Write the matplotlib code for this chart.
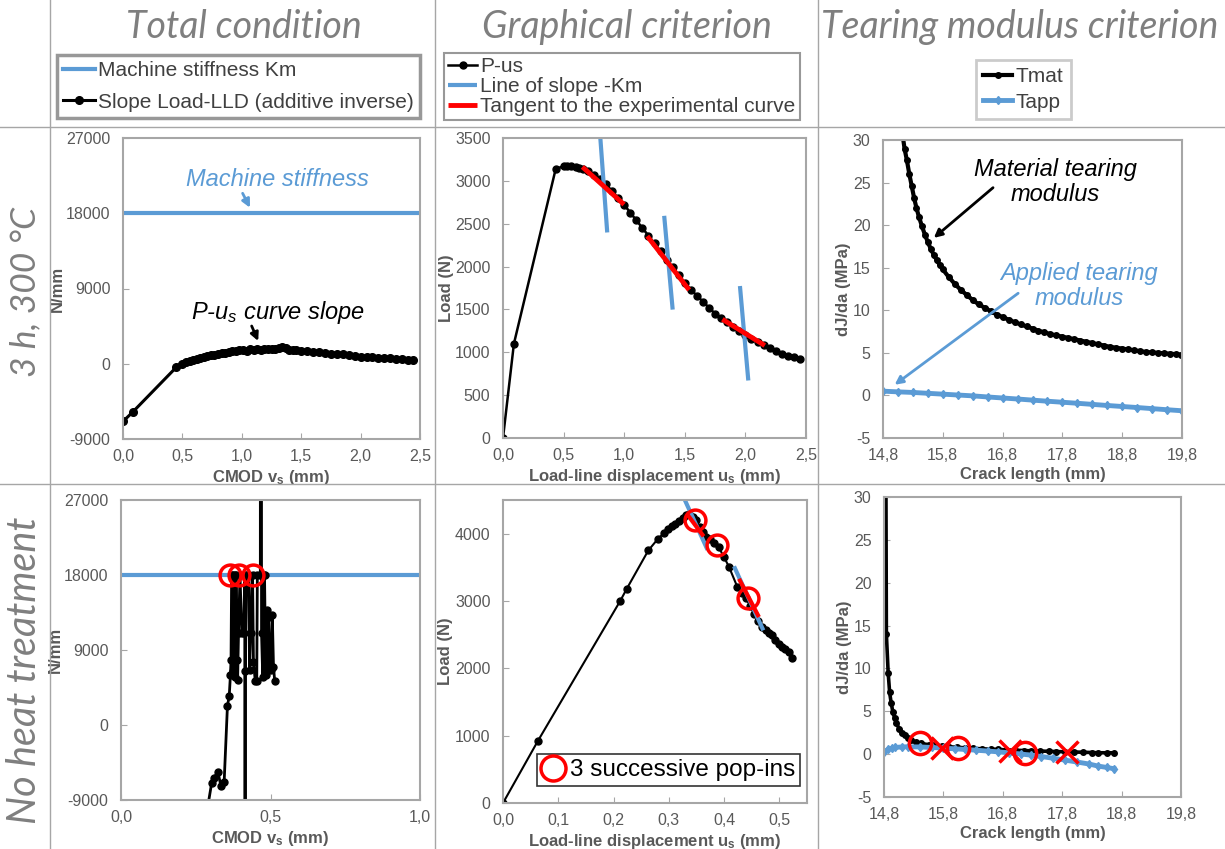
import matplotlib
matplotlib.use("Agg")
import matplotlib.pyplot as plt
from matplotlib.lines import Line2D
from matplotlib.ticker import FuncFormatter, MultipleLocator, FixedLocator

plt.rcParams['font.family'] = ['Liberation Sans', 'DejaVu Sans']
plt.rcParams['axes.unicode_minus'] = False
plt.rcParams['mathtext.fontset'] = 'custom'
plt.rcParams['mathtext.rm'] = 'Liberation Sans'
plt.rcParams['mathtext.it'] = 'Liberation Sans:italic'
plt.rcParams['mathtext.bf'] = 'Liberation Sans:bold'

BLUE = '#5b9bd5'
RED = '#ff0000'
GRAY_TXT = '#7f7f7f'
TICK_TXT = '#595959'
SPINE = '#a6a6a6'

# ---------------- data ----------------
col_titles = ['Total condition', 'Graphical criterion', 'Tearing modulus criterion']
row_titles = ['3 h, 300 °C', 'No heat treatment']

km_value = 18000  # machine stiffness (N/mm)
crack_ticks = [14.8, 15.8, 16.8, 17.8, 18.8, 19.8]

# 3 h, 300 °C -- slope Load-LLD (additive inverse)
slope1_x = [0.00, 0.08, 0.45, 0.50, 0.53, 0.56, 0.59, 0.62, 0.65, 0.68, 0.71, 0.74, 0.77,
            0.80, 0.83, 0.86, 0.89, 0.92, 0.95, 0.98, 1.01, 1.04, 1.07, 1.10, 1.13, 1.16,
            1.19, 1.22, 1.25, 1.28, 1.31, 1.34, 1.37, 1.40, 1.43, 1.46, 1.50, 1.55, 1.60,
            1.65, 1.70, 1.75, 1.80, 1.85, 1.90, 1.95, 2.00, 2.05, 2.10, 2.15, 2.20, 2.25,
            2.30, 2.35, 2.40, 2.44]
slope1_y = [-6900, -5800, -400, 0, 150, 300, 420, 560, 700, 800, 900, 1000, 1080,
            1150, 1250, 1330, 1420, 1500, 1580, 1620, 1680, 1560, 1740, 1650, 1820, 1700,
            1760, 1720, 1760, 1800, 1880, 2050, 1880, 1700, 1640, 1700, 1560, 1500, 1450,
            1380, 1280, 1200, 1120, 1150, 1050, 880, 860, 800, 760, 700, 660, 650,
            600, 560, 460, 400]

# 3 h, 300 °C -- P-us curve
pus1_x = [0.00, 0.09, 0.435, 0.50, 0.53, 0.56, 0.60, 0.63, 0.66, 0.70, 0.75, 0.80, 0.85,
          0.90, 0.95, 1.00, 1.05, 1.10, 1.15, 1.20, 1.25, 1.30, 1.35, 1.40, 1.45, 1.50,
          1.55, 1.60, 1.65, 1.70, 1.75, 1.80, 1.85, 1.90, 1.95, 2.00, 2.05, 2.10, 2.15,
          2.20, 2.25, 2.30, 2.35, 2.40, 2.45]
pus1_y = [0, 1100, 3140, 3170, 3170, 3170, 3165, 3150, 3135, 3110, 3070, 3020, 2960,
          2880, 2800, 2720, 2630, 2540, 2450, 2360, 2270, 2180, 2080, 1990, 1900, 1810,
          1730, 1660, 1590, 1520, 1450, 1400, 1350, 1290, 1245, 1200, 1160, 1120, 1085,
          1050, 1020, 985, 960, 940, 920]

km_seg1_x = [[0.80, 0.86], [1.33, 1.40], [1.955, 2.024]]
km_seg1_y = [[3560, 2398], [2592, 1498], [1773, 671]]
tan_seg1_x = [[0.655, 0.999], [1.19, 1.536], [1.81, 2.16]]
tan_seg1_y = [[3163, 2724], [2355, 1727], [1385, 1079]]

# 3 h, 300 °C -- tearing moduli
tmat1_x = [15.12, 15.16, 15.20, 15.24, 15.28, 15.32, 15.36, 15.40, 15.45, 15.50, 15.55,
           15.60, 15.65, 15.70, 15.75, 15.80, 15.90, 16.00, 16.10, 16.20, 16.30, 16.40,
           16.50, 16.60, 16.70, 16.80, 16.90, 17.00, 17.10, 17.20, 17.30, 17.40, 17.50,
           17.60, 17.70, 17.80, 17.90, 18.00, 18.10, 18.20, 18.30, 18.40, 18.50, 18.60,
           18.70, 18.80, 18.90, 19.00, 19.10, 19.20, 19.30, 19.40, 19.50, 19.60, 19.70, 19.78]
tmat1_y = [31.0, 29.0, 27.6, 26.0, 24.6, 23.2, 22.0, 21.0, 19.9, 18.9, 18.0,
           17.2, 16.5, 15.9, 15.3, 14.8, 13.9, 13.1, 12.4, 11.8, 11.2, 10.7,
           10.3, 9.9, 9.5, 9.2, 8.9, 8.6, 8.35, 8.1, 7.85, 7.6, 7.4,
           7.2, 7.05, 6.9, 6.75, 6.6, 6.45, 6.3, 6.15, 6.0, 5.85, 5.7,
           5.6, 5.5, 5.4, 5.3, 5.2, 5.1, 5.05, 5.0, 4.95, 4.9, 4.85, 4.8]
tapp1_x = [14.80, 15.05, 15.30, 15.55, 15.80, 16.05, 16.30, 16.55, 16.80, 17.05, 17.30,
           17.55, 17.80, 18.05, 18.30, 18.55, 18.80, 19.05, 19.30, 19.55, 19.80]
tapp1_y = [0.50, 0.42, 0.35, 0.25, 0.15, 0.05, -0.05, -0.18, -0.30, -0.42, -0.55,
           -0.68, -0.80, -0.92, -1.05, -1.18, -1.30, -1.42, -1.55, -1.68, -1.80]

# No heat treatment -- slope Load-LLD (additive inverse)
slope2_x = [0.280, 0.303, 0.312, 0.324, 0.334, 0.345, 0.356, 0.362, 0.366, 0.368, 0.370,
            0.374, 0.376, 0.380, 0.382, 0.386, 0.388, 0.390, 0.393, 0.398, 0.404, 0.410,
            0.414, 0.415, 0.416, 0.420, 0.428, 0.430, 0.434, 0.440, 0.443, 0.449, 0.454,
            0.456, 0.466, 0.468, 0.470, 0.474, 0.477, 0.480, 0.484, 0.488, 0.490, 0.494,
            0.498, 0.502, 0.506, 0.510, 0.514]
slope2_y = [-12000, -7000, -6300, -5600, -7300, -6800, 2300, 3500, 6000, 7800, 18000,
            18000, 6500, 5800, 18000, 18000, 7800, 5400, 11000, 18000, 11000, 11000,
            18000, -300000, 6500, 18000, 18000, 6600, 11000, 18000, 7600, 5300, 5300,
            18000, 18000, 300000, 11000, 5800, 18000, 18000, 6000, 13800, 6600, 13000,
            7200, 6600, 13200, 7000, 5300]
popin_slope_x = [0.365, 0.396, 0.443]

# No heat treatment -- P-us curve
pus2_x = [0.000, 0.063, 0.212, 0.224, 0.263, 0.280, 0.292, 0.299, 0.305, 0.311, 0.318,
          0.325, 0.331, 0.337, 0.343, 0.349, 0.356, 0.362, 0.367, 0.374, 0.382, 0.390,
          0.400, 0.409, 0.424, 0.432, 0.439, 0.447, 0.454, 0.462, 0.468, 0.475, 0.481,
          0.487, 0.493, 0.499, 0.505, 0.511, 0.517, 0.523]
pus2_y = [0, 920, 3000, 3183, 3752, 3920, 4015, 4070, 4110, 4150, 4190,
          4230, 4270, 4290, 4250, 4198, 4100, 4020, 3950, 3920, 3861, 3802,
          3650, 3505, 3208, 3120, 3050, 2930, 2812, 2700, 2620, 2574, 2530,
          2490, 2420, 2366, 2320, 2280, 2243, 2158]
km_seg2_x = [[0.329, 0.370], [0.418, 0.471]]
km_seg2_y = [[4500, 3760], [3515, 2564]]
tan_seg2_x = [[0.333, 0.363], [0.427, 0.463]]
tan_seg2_y = [[4290, 3960], [3330, 2762]]
popin_x = [0.347, 0.388, 0.444]
popin_y = [4208, 3826, 3045]

# No heat treatment -- tearing moduli
tmat2_x = [14.820, 14.840, 14.870, 14.895, 14.920, 14.950, 14.980, 15.010, 15.060, 15.100,
           15.150, 15.200, 15.260, 15.340, 15.430, 15.550, 15.650, 15.770, 15.900, 16.030,
           16.160, 16.300, 16.450, 16.600, 16.720, 16.850, 17.000, 17.150, 17.280, 17.420,
           17.570, 17.700, 17.850, 18.000, 18.150, 18.300, 18.410, 18.550, 18.670]
tmat2_y = [60.0, 14.0, 9.5, 7.2, 6.0, 4.9, 4.2, 3.6, 2.9, 2.5,
           2.2, 1.9, 1.6, 1.4, 1.25, 1.1, 1.02, 0.94, 0.85, 0.8,
           0.74, 0.68, 0.62, 0.58, 0.55, 0.5, 0.46, 0.42, 0.39, 0.36,
           0.33, 0.3, 0.27, 0.25, 0.22, 0.19, 0.16, 0.16, 0.16]
tapp2_x = [14.80, 14.87, 14.93, 14.98, 15.10, 15.20, 15.40, 15.60, 15.80, 16.00, 16.16,
           16.35, 16.55, 16.72, 16.90, 17.10, 17.28, 17.45, 17.65, 17.85, 18.05, 18.25,
           18.41, 18.55, 18.67]
tapp2_y = [0.27, 0.55, 0.70, 0.78, 0.84, 0.86, 0.84, 0.78, 0.70, 0.62, 0.55,
           0.46, 0.36, 0.27, 0.16, 0.02, -0.12, -0.28, -0.48, -0.70, -0.92, -1.15,
           -1.40, -1.55, -1.70]
cross_circ_x = [15.40, 16.04, 17.18]
cross_circ_y = [1.25, 0.66, 0.19]
cross_x_x = [15.78, 16.92, 17.88]
cross_x_y = [0.66, 0.35, 0.27]

# ---------------- layout ----------------
W, H = 1225, 849
fig = plt.figure(figsize=(W / 100, H / 100), dpi=100)
fig.patch.set_facecolor('white')


def rect(l, t, r, b):
    return [l / W, 1 - b / H, (r - l) / W, (b - t) / H]


def fx(x):
    return x / W


def fy(y):
    return 1 - y / H


comma1 = FuncFormatter(lambda v, p: f'{v:.1f}'.replace('.', ','))
intfmt = FuncFormatter(lambda v, p: f'{v:.0f}')


def style_axes(ax, xlim, xstep, ylim, ystep, xlabel, ylabel, xticks=None):
    ax.set_xlim(*xlim)
    ax.set_ylim(*ylim)
    if xticks is not None:
        ax.xaxis.set_major_locator(FixedLocator(xticks))
    else:
        ax.xaxis.set_major_locator(MultipleLocator(xstep))
    ax.yaxis.set_major_locator(MultipleLocator(ystep))
    ax.xaxis.set_major_formatter(comma1)
    ax.yaxis.set_major_formatter(intfmt)
    for s in ax.spines.values():
        s.set_color(SPINE)
        s.set_linewidth(1.5)
    ax.tick_params(direction='in', length=4, color=SPINE, labelsize=11.5,
                   labelcolor=TICK_TXT)
    ax.tick_params(axis='x', pad=7)
    ax.tick_params(axis='y', pad=9)
    ax.set_xlabel(xlabel, fontsize=12, fontweight='bold', color=TICK_TXT, labelpad=3)
    ax.set_ylabel(ylabel, fontsize=12, fontweight='bold', color=TICK_TXT, labelpad=1)


ax1 = fig.add_axes(rect(123, 138, 420, 439))
ax2 = fig.add_axes(rect(503, 138, 806, 438))
ax3 = fig.add_axes(rect(883, 140, 1182, 438))
ax4 = fig.add_axes(rect(121, 500, 420, 800))
ax5 = fig.add_axes(rect(503, 500, 807, 803))
ax6 = fig.add_axes(rect(884, 497, 1181, 797))

cmod_lbl = r'CMOD v$_{\mathbf{s}}$ (mm)'
lld_lbl = r'Load-line displacement u$_{\mathbf{s}}$ (mm)'
arrow_kw = dict(arrowstyle='-|>', lw=2, mutation_scale=12, shrinkA=0, shrinkB=0)

# --- panel 1 ---
h_km = ax1.axhline(km_value, color=BLUE, lw=3, label='Machine stiffness Km')
h_sl, = ax1.plot(slope1_x, slope1_y, color='black', lw=2.2, marker='o', ms=5.5,
                 label='Slope Load-LLD (additive inverse)')
style_axes(ax1, (0, 2.5), 0.5, (-9000, 27000), 9000, cmod_lbl, 'N/mm')
ax1.text(1.296, 21977, 'Machine stiffness', fontsize=17, style='italic', color=BLUE,
         ha='center', va='center')
ax1.annotate('', xy=(1.069, 18664), xytext=(1.007, 20386),
             arrowprops=dict(color=BLUE, **arrow_kw))
ax1.text(1.305, 6070, r'P-$u_s$ curve slope', fontsize=17, style='italic',
         ha='center', va='center')
ax1.annotate('', xy=(1.138, 2721), xytext=(1.083, 4515),
             arrowprops=dict(color='black', **arrow_kw))

# --- panel 2 ---
h_pus, = ax2.plot(pus1_x, pus1_y, color='black', lw=1.8, marker='o', ms=5, label='P-us')
km_handles = [ax2.plot(sx, sy, color=BLUE, lw=3, solid_capstyle='butt')[0]
              for sx, sy in zip(km_seg1_x, km_seg1_y)]
tan_handles = [ax2.plot(sx, sy, color=RED, lw=3.5, solid_capstyle='butt')[0]
               for sx, sy in zip(tan_seg1_x, tan_seg1_y)]
km_handles[0].set_label('Line of slope -Km')
tan_handles[0].set_label('Tangent to the experimental curve')
style_axes(ax2, (0, 2.5), 0.5, (0, 3500), 500, lld_lbl, 'Load (N)')

# --- panel 3 ---
h_tm, = ax3.plot(tmat1_x, tmat1_y, color='black', lw=3, marker='o', ms=4, label='Tmat')
h_ta, = ax3.plot(tapp1_x, tapp1_y, color=BLUE, lw=3.5, marker='d', ms=4.5, label='Tapp')
style_axes(ax3, (14.8, 19.8), 1, (-5, 30), 5, 'Crack length (mm)', 'dJ/da (MPa)',
           xticks=crack_ticks)
ax3.text(17.68, 25.06, 'Material tearing\nmodulus', fontsize=17, style='italic',
         ha='center', va='center', linespacing=1.15)
ax3.annotate('', xy=(15.65, 18.5), xytext=(16.64, 24.4),
             arrowprops=dict(color='black', **arrow_kw))
ax3.text(18.08, 12.84, 'Applied tearing\nmodulus', fontsize=17, style='italic',
         color=BLUE, ha='center', va='center', linespacing=1.15)
ax3.annotate('', xy=(14.995, 1.25), xytext=(17.06, 12.0),
             arrowprops=dict(color=BLUE, **arrow_kw))

# --- panel 4 ---
ax4.axhline(km_value, color=BLUE, lw=3)
ax4.plot(slope2_x, slope2_y, color='black', lw=2, marker='o', ms=5)
ax4.plot(popin_slope_x, [km_value] * len(popin_slope_x), ls='none', marker='o', ms=15,
         mfc='none', mec=RED, mew=2.5)
style_axes(ax4, (0, 1.0), 0.5, (-9000, 27000), 9000, cmod_lbl, 'N/mm')

# --- panel 5 ---
ax5.plot(pus2_x, pus2_y, color='black', lw=1.5, marker='o', ms=5)
for sx, sy in zip(km_seg2_x, km_seg2_y):
    ax5.plot(sx, sy, color=BLUE, lw=3, solid_capstyle='butt')
for sx, sy in zip(tan_seg2_x, tan_seg2_y):
    ax5.plot(sx, sy, color=RED, lw=3, solid_capstyle='butt')
h_pop, = ax5.plot(popin_x, popin_y, ls='none', marker='o', ms=15, mfc='none', mec=RED,
                  mew=2.5, label='3 successive pop-ins')
style_axes(ax5, (0, 0.55), 0.1, (0, 4500), 1000, lld_lbl, 'Load (N)')
leg5 = ax5.legend(handles=[h_pop], loc='lower right', bbox_to_anchor=(0.977, 0.056),
                  borderaxespad=0, fontsize=17.5, fancybox=False, edgecolor='black',
                  handlelength=0.9, handletextpad=0.25, borderpad=0.2, markerscale=1.2)
leg5.get_frame().set_linewidth(1.2)

# --- panel 6 ---
ax6.plot(tmat2_x, tmat2_y, color='black', lw=2.6, marker='o', ms=4)
ax6.plot(tapp2_x, tapp2_y, color=BLUE, lw=3.5, marker='d', ms=4.5)
ax6.plot(cross_circ_x, cross_circ_y, ls='none', marker='o', ms=16, mfc='none', mec=RED, mew=2.5)
ax6.plot(cross_x_x, cross_x_y, ls='none', marker='x', ms=16, mec=RED, mew=2.5)
style_axes(ax6, (14.8, 19.8), 1, (-5, 30), 5, 'Crack length (mm)', 'dJ/da (MPa)',
           xticks=crack_ticks)

# ---------------- legends in the header row ----------------
leg_kw = dict(fontsize=15, fancybox=False, handletextpad=0.15, borderaxespad=0,
              labelcolor='#404040')
lg1 = fig.legend(handles=[h_km, h_sl], loc='upper left', bbox_to_anchor=(fx(57), fy(55)),
                 edgecolor='#7f7f7f', handlelength=1.5, labelspacing=0.6,
                 borderpad=0.3, **leg_kw)
lg1.get_frame().set_linewidth(2.5)
lg2 = fig.legend(handles=[h_pus, km_handles[0], tan_handles[0]], loc='upper left',
                 bbox_to_anchor=(fx(444), fy(53)), edgecolor='#7f7f7f', handlelength=1.4,
                 labelspacing=0.05, borderpad=0.2, **leg_kw)
lg2.get_frame().set_linewidth(1.5)
lg3 = fig.legend(handles=[h_tm, h_ta], loc='upper left', bbox_to_anchor=(fx(976), fy(60)),
                 edgecolor='#bfbfbf', handlelength=1.4, labelspacing=0.3,
                 borderpad=0.35, **leg_kw)
lg3.get_frame().set_linewidth(2)

# ---------------- headers and separators ----------------
head_kw = dict(fontfamily=['Lato', 'DejaVu Sans'], style='italic', fontweight='normal',
               color=GRAY_TXT, ha='center', va='center')
for cx, title in zip([244, 627, 1020], col_titles):
    fig.text(fx(cx), fy(27), title, fontsize=27, **head_kw)
for cy, size, title in zip([292, 670], [25.5, 28.5], row_titles):
    fig.text(fx(25), fy(cy), title, fontsize=size, rotation=90, **head_kw)

for x in [50, 435, 818]:
    fig.add_artist(Line2D([fx(x), fx(x)], [0, 1], color=SPINE, lw=1))
for y in [127, 484]:
    fig.add_artist(Line2D([0, 1], [fy(y), fy(y)], color=SPINE, lw=1))

fig.savefig('out.png', dpi=100, facecolor='white')
